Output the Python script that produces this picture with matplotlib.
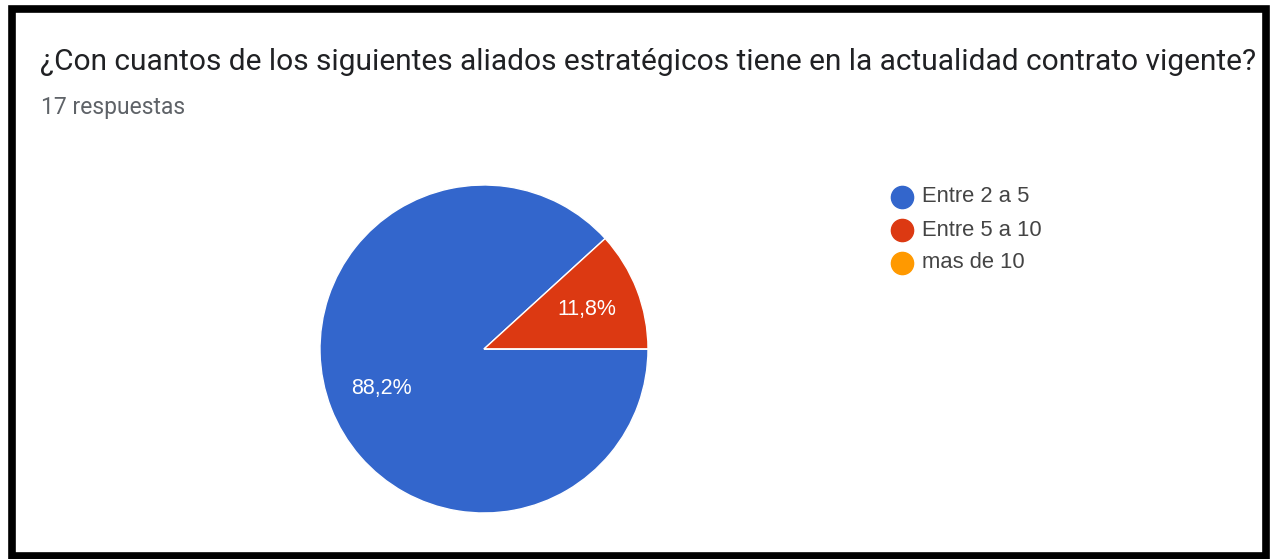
import matplotlib.pyplot as plt
from matplotlib.lines import Line2D
from matplotlib.patches import Rectangle

# survey answers
title = '¿Con cuantos de los siguientes aliados estratégicos tiene en la actualidad contrato vigente?'
subtitle = '17 respuestas'
categories = ['Entre 2 a 5', 'Entre 5 a 10', 'mas de 10']
responses = [15, 2, 0]
colors = ['#3366CC', '#DC3912', '#FF9900']

W, H = 1271, 559
fig = plt.figure(figsize=(W / 100, H / 100), dpi=100)


# percentage label with decimal comma, nothing for empty slices
def pct_label(pct):
    if pct <= 0:
        return ''
    return f'{pct:.1f}%'.replace('.', ',')


# pie axes: centre (484, 349) px, radius 164 px
cx, cy, r = 484, 349, 164
ax = fig.add_axes([(cx - r) / W, (H - cy - r) / H, 2 * r / W, 2 * r / H])
wedges, texts, autotexts = ax.pie(responses, colors=colors, startangle=0, counterclock=False,
                                  autopct=pct_label, pctdistance=0.67,
                                  wedgeprops=dict(edgecolor='white', linewidth=1))
ax.set_xlim(-1, 1)
ax.set_ylim(-1, 1)
for t in autotexts:
    t.set_color('white')
    t.set_fontsize(15.5)
    t.set_family('Liberation Sans')

fig.text(40 / W, 1 - 62 / H, title, fontsize=21.5, family='Roboto', color='#202124', va='center')
fig.text(41 / W, 1 - 108 / H, subtitle, fontsize=16.5, family='Roboto', color='#5f6368', va='center')

# legend rows, drawn by hand to sit where the card puts them
for i, (name, c) in enumerate(zip(categories, colors)):
    y = 1 - (197 + 33 * i) / H
    fig.add_artist(Line2D([902 / W], [y], transform=fig.transFigure, marker='o',
                          markersize=16, markerfacecolor=c, markeredgecolor=c, linestyle='none'))
    fig.text(922 / W, y, name, fontsize=15.8, family='Liberation Sans', color='#444444', va='center')

# black frame around the card
fig.patches.append(Rectangle((12 / W, 3 / H), 1254 / W, 547 / H, transform=fig.transFigure,
                             fill=False, edgecolor='black', linewidth=5.5))

fig.savefig('out.png', dpi=100)
